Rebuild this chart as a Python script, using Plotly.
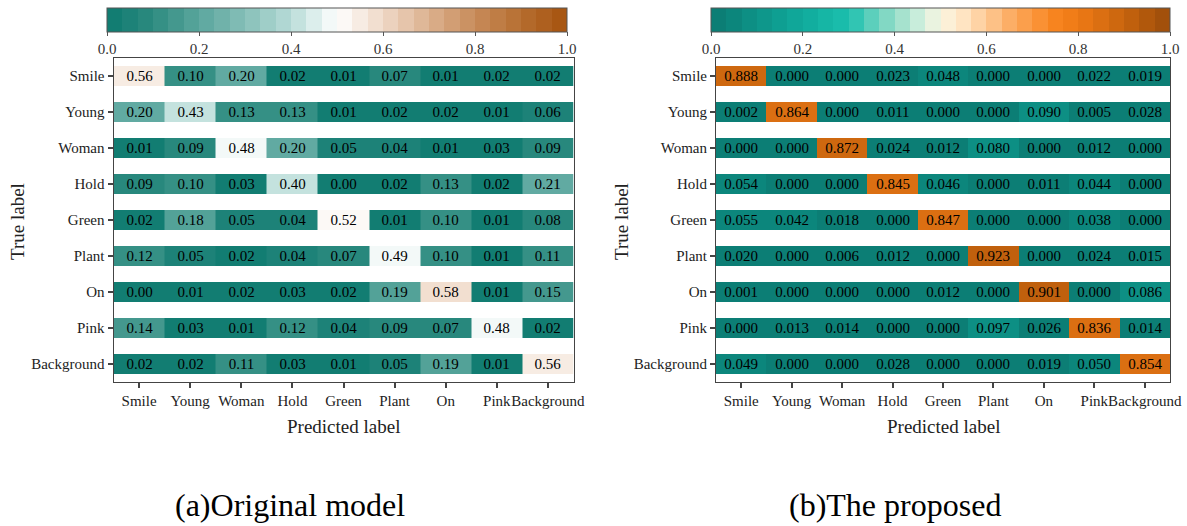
import plotly.graph_objects as go

labels = ["Smile", "Young", "Woman", "Hold", "Green", "Plant", "On", "Pink", "Background"]

original_model = [
    [0.56, 0.10, 0.20, 0.02, 0.01, 0.07, 0.01, 0.02, 0.02],
    [0.20, 0.43, 0.13, 0.13, 0.01, 0.02, 0.02, 0.01, 0.06],
    [0.01, 0.09, 0.48, 0.20, 0.05, 0.04, 0.01, 0.03, 0.09],
    [0.09, 0.10, 0.03, 0.40, 0.00, 0.02, 0.13, 0.02, 0.21],
    [0.02, 0.18, 0.05, 0.04, 0.52, 0.01, 0.10, 0.01, 0.08],
    [0.12, 0.05, 0.02, 0.04, 0.07, 0.49, 0.10, 0.01, 0.11],
    [0.00, 0.01, 0.02, 0.03, 0.02, 0.19, 0.58, 0.01, 0.15],
    [0.14, 0.03, 0.01, 0.12, 0.04, 0.09, 0.07, 0.48, 0.02],
    [0.02, 0.02, 0.11, 0.03, 0.01, 0.05, 0.19, 0.01, 0.56],
]

proposed_model = [
    [0.888, 0.000, 0.000, 0.023, 0.048, 0.000, 0.000, 0.022, 0.019],
    [0.002, 0.864, 0.000, 0.011, 0.000, 0.000, 0.090, 0.005, 0.028],
    [0.000, 0.000, 0.872, 0.024, 0.012, 0.080, 0.000, 0.012, 0.000],
    [0.054, 0.000, 0.000, 0.845, 0.046, 0.000, 0.011, 0.044, 0.000],
    [0.055, 0.042, 0.018, 0.000, 0.847, 0.000, 0.000, 0.038, 0.000],
    [0.020, 0.000, 0.006, 0.012, 0.000, 0.923, 0.000, 0.024, 0.015],
    [0.001, 0.000, 0.000, 0.000, 0.012, 0.000, 0.901, 0.000, 0.086],
    [0.000, 0.013, 0.014, 0.000, 0.000, 0.097, 0.026, 0.836, 0.014],
    [0.049, 0.000, 0.000, 0.028, 0.000, 0.000, 0.019, 0.050, 0.854],
]

captions = ["(a)Original model", "(b)The proposed"]

left_anchors = [
    (0.0, "#0c7a6f"), (0.1, "#2e8b80"), (0.2, "#5aa69d"), (0.3, "#86bfb8"),
    (0.4, "#b8dcd8"), (0.5, "#ffffff"), (0.6, "#efd9c7"), (0.7, "#dcb28f"),
    (0.8, "#c88b5a"), (0.9, "#b66e30"), (1.0, "#a5520d"),
]
right_anchors = [
    (0.0, "#0c7a71"), (0.1, "#0d9388"), (0.2, "#10ab9c"), (0.3, "#1cc0ae"),
    (0.35, "#5ccfbc"), (0.4, "#95dcc8"), (0.45, "#c8eddb"), (0.5, "#fbf6e2"),
    (0.55, "#ffe4c2"), (0.6, "#fdcb96"), (0.65, "#fcae66"), (0.7, "#fb973f"),
    (0.75, "#f7841f"), (0.8, "#ee7a15"), (0.9, "#c8640e"), (1.0, "#9a4c0a"),
]


def hex2rgb(h):
    h = h.lstrip("#")
    return tuple(int(h[i:i + 2], 16) for i in (0, 2, 4))


def interp(anchors, t):
    for (a, ca), (b, cb) in zip(anchors[:-1], anchors[1:]):
        if a <= t <= b:
            f = (t - a) / (b - a) if b > a else 0
            r1, g1, b1 = hex2rgb(ca)
            r2, g2, b2 = hex2rgb(cb)
            return "rgb(%d,%d,%d)" % (round(r1 + (r2 - r1) * f), round(g1 + (g2 - g1) * f), round(b1 + (b2 - b1) * f))
    return anchors[-1][1]


def discrete_scale(anchors, n=30):
    scale = []
    for i in range(n):
        c = interp(anchors, (i + 0.5) / n)
        scale.append([i / n, c])
        scale.append([(i + 1) / n, c])
    return scale


FONT = "Liberation Serif"
W, H = 1187, 526

fig = go.Figure()

panels = [
    dict(z=original_model, fmt="%{z:.2f}", scale=discrete_scale(left_anchors), xa="x", ya="y",
         cax="coloraxis", dom=(113.5, 573.5), cb=(107, 567)),
    dict(z=proposed_model, fmt="%{z:.3f}", scale=discrete_scale(right_anchors), xa="x2", ya="y2",
         cax="coloraxis2", dom=(716, 1170), cb=(711, 1170)),
]

for p in panels:
    fig.add_trace(go.Heatmap(
        z=p["z"], x=labels, y=labels, coloraxis=p["cax"],
        xaxis=p["xa"], yaxis=p["ya"], ygap=16, xgap=0,
        texttemplate=p["fmt"], textfont=dict(family=FONT, size=15, color="black"),
        hoverinfo="skip",
    ))

ytop, ybot = 58, 382
ydom = [1 - ybot / H, 1 - ytop / H]

axis_common = dict(
    showline=True, mirror=True, linecolor="#444", linewidth=1,
    ticks="outside", ticklen=5, tickcolor="#444", tickwidth=1.5,
    tickfont=dict(family=FONT, size=15, color="#222"),
    showgrid=False, zeroline=False, type="category", tickangle=0,
)

layout = dict(
    width=W, height=H, margin=dict(l=0, r=0, t=0, b=0, autoexpand=False),
    paper_bgcolor="white", plot_bgcolor="white",
    font=dict(family=FONT),
)
for i, p in enumerate(panels):
    sx = "" if i == 0 else "2"
    layout["xaxis" + sx] = dict(axis_common, domain=[p["dom"][0] / W, p["dom"][1] / W],
                                anchor="y" + sx, automargin=False)
    layout["yaxis" + sx] = dict(axis_common, domain=ydom, anchor="x" + sx, autorange="reversed",
                                automargin=False)
    cx = (p["cb"][0] + p["cb"][1]) / 2
    layout[p["cax"]] = dict(
        cmin=0, cmax=1, colorscale=p["scale"],
        colorbar=dict(
            orientation="h", x=cx / W, xanchor="center", y=1 - 8 / H, yanchor="top",
            len=p["cb"][1] - p["cb"][0], lenmode="pixels", thickness=24,
            xpad=0, ypad=0, outlinewidth=1, outlinecolor="#555",
            tickvals=[0, 0.2, 0.4, 0.6, 0.8, 1.0], ticktext=["0.0", "0.2", "0.4", "0.6", "0.8", "1.0"],
            ticks="outside", ticklen=4, tickcolor="#555",
            tickfont=dict(family=FONT, size=15, color="#333"),
        ),
    )

fig.update_layout(**layout)

annotations = []
for i, p in enumerate(panels):
    cxp = (p["dom"][0] + p["dom"][1]) / 2
    annotations.append(dict(text="Predicted label", x=cxp / W, y=1 - 426 / H, xref="paper", yref="paper",
                            showarrow=False, font=dict(family=FONT, size=19, color="#222"),
                            xanchor="center", yanchor="middle"))
    tx = 18 if i == 0 else 622
    annotations.append(dict(text="True label", x=tx / W, y=1 - 222 / H, xref="paper", yref="paper",
                            showarrow=False, textangle=-90, font=dict(family=FONT, size=19, color="#222"),
                            xanchor="center", yanchor="middle"))
    capx = 290 if i == 0 else 895
    annotations.append(dict(text=captions[i], x=capx / W, y=1 - 505 / H, xref="paper", yref="paper",
                            showarrow=False, font=dict(family=FONT, size=32, color="black"),
                            xanchor="center", yanchor="middle"))
fig.update_layout(annotations=annotations)

fig.write_html("out.html", config={"displayModeBar": False},
               post_script="document.body.style.margin='0px';document.body.style.overflow='hidden';")
